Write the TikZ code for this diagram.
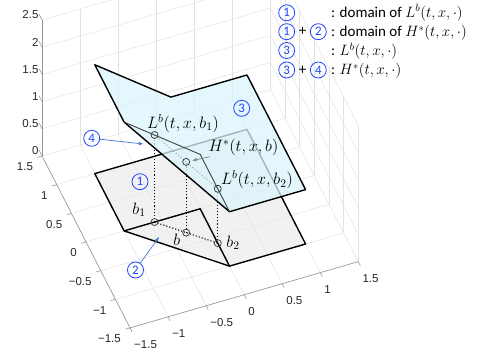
\RequirePackage{fix-cm}
\documentclass[tikz,border=0pt]{standalone}
\usepackage{fontspec}
\setmainfont{Carlito}
\newfontfamily\ticksf{Liberation Sans}
\usetikzlibrary{arrows.meta}
\definecolor{cblue}{RGB}{30,70,255}
\definecolor{ablue}{RGB}{70,120,210}
\definecolor{upfill}{RGB}{218,244,252}
\definecolor{lowfill}{RGB}{228,228,228}
\definecolor{gridc}{RGB}{226,226,226}
\definecolor{axisc}{RGB}{150,150,150}
\definecolor{tickc}{RGB}{38,38,38}
\begin{document}
\begin{tikzpicture}[x=1pt,y=1pt,
  gridl/.style={draw=gridc, line width=0.5pt},
  axl/.style={draw=axisc, line width=0.6pt},
  tickl/.style={font=\ticksf\fontsize{11.5}{13}\selectfont, text=tickc, inner sep=0pt},
  thickedge/.style={draw=black, line width=1.4pt, line join=round},
  thinedge/.style={draw=black!75, line width=0.9pt, line join=round},
  dotl/.style={draw=black, line width=1.1pt, dotted},
  mk/.style={circle, draw=black!75, line width=0.8pt, minimum size=7pt, inner sep=0pt},
  cnum/.style={circle, draw=cblue, text=cblue, line width=0.8pt, minimum size=16pt, inner sep=0pt, font=\fontsize{13}{13}\selectfont},
  mlab/.style={inner sep=0pt, font=\fontsize{16.5}{18}\selectfont},
  ltxt/.style={inner sep=0pt, anchor=base west, font=\fontsize{15}{16}\selectfont},
  barrow/.style={draw=ablue, line width=0.7pt, -{Stealth[length=5pt,width=3.5pt]}},
  garrow/.style={draw=gray, line width=0.7pt, -{Stealth[length=5pt,width=3.5pt]}}
]
\useasboundingbox (0,0) rectangle (486,356);
\clip (0,0) rectangle (486,356);
\begin{scope}[shift={(200.2,147.2)}, x={(76.1pt,22.1pt)}, y={(-29.3pt,57.3pt)}, z={(0pt,54.4pt)}]
  % grid
  \foreach \v in {-1.5,-1,-0.5,0,0.5,1,1.5} {
    \draw[gridl] (\v,-1.5,0) -- (\v,1.5,0);
    \draw[gridl] (-1.5,\v,0) -- (1.5,\v,0);
    \draw[gridl] (\v,1.5,0) -- (\v,1.5,2.5);
    \draw[gridl] (1.5,\v,0) -- (1.5,\v,2.5);
  }
  \foreach \h in {0.5,1,1.5,2,2.5} {
    \draw[gridl] (-1.5,1.5,\h) -- (1.5,1.5,\h);
    \draw[gridl] (1.5,-1.5,\h) -- (1.5,1.5,\h);
  }
  % axes
  \draw[axl] (-1.5,-1.5,0) -- (1.5,-1.5,0);
  \draw[axl] (-1.5,-1.5,0) -- (-1.5,1.5,0);
  \draw[axl] (-1.5,1.5,0) -- (-1.5,1.5,2.5);
  \foreach \v/\t [count=\i] in {-1.5/−1.5,-1/−1,-0.5/−0.5,0/0,0.5/0.5,1/1,1.5/1.5} {
    \draw[axl] (\v,-1.5,0) -- (\v,-1.57,0);
    \draw[axl] (-1.5,\v,0) -- (-1.56,\v,0);
    \node[tickl, anchor=west, xshift=4pt, yshift=-17pt] (xt\i) at (\v,-1.5,0) {\t};
    \node[tickl, anchor=east, xshift=-9pt, yshift=-11pt] (yt\i) at (-1.5,\v,0) {\t};
  }
  \foreach \h [count=\i] in {0,0.5,1,1.5,2,2.5} {
    \draw[axl] (-1.5,1.5,\h) -- (-1.5,1.6,\h);
    \node[tickl, anchor=east, xshift=-3.5pt, yshift=5pt] (zt\i) at (-1.5,1.5,\h) {\h};
  }
  % lower domain
  \fill[lowfill, fill opacity=0.5] (-1,1,0) -- (-1,0,0) -- (0,-1,0) -- (1,-1,0) -- (1,1,0) -- cycle;
  \draw[thickedge] (-1,1,0) -- (-1,0,0) -- (0,-1,0) -- (1,-1,0) -- (1,1,0) -- cycle;
  \draw[thickedge] (-1,0,0) -- (0,0,0) -- (0,-1,0);
  % points
  \coordinate (B1) at (-0.6,0,0);
  \coordinate (B) at (-0.3,-0.3,0);
  \coordinate (B2) at (0,-0.6,0);
  \coordinate (LB1) at (-0.6,0,1.6);
  \coordinate (HB) at (-0.3,-0.3,1.3);
  \coordinate (LB2) at (0,-0.6,1);
  \draw[dotl] (B1) -- (B) -- (B2);
  \draw[dotl] (LB1) -- (HB) -- (LB2);
  \draw[dotl] (B1) -- (LB1);
  \draw[dotl] (B) -- (HB);
  \draw[dotl] (B2) -- (LB2);
  \node[mk] (mB1) at (B1) {};
  \node[mk] (mB) at (B) {};
  \node[mk] (mB2) at (B2) {};
  % upper surface
  \fill[upfill, fill opacity=0.75] (-1,1,2) -- (0,1,1) -- (1,1,1) -- (1,-1,1) -- (0,-1,1) -- (-1,0,2) -- cycle;
  \draw[thickedge] (-1,0,2) -- (-1,1,2) -- (0,1,1) -- (1,1,1) -- (1,-1,1) -- (0,-1,1) -- cycle;
  \draw[thinedge] (-1,0,2) -- (0,0,1) -- (0,-1,1);
  \node[mk] (mLB1) at (LB1) {};
  \node[mk] (mHB) at (HB) {};
  \node[mk] (mLB2) at (LB2) {};
\end{scope}
% labels near points
\node[mlab, anchor=west] (lLB1) at (147,232.7) {$L^b(t,x,b_1)$};
\node[mlab, anchor=west] (lHB) at (208.3,209) {$H^*(t,x,b)$};
\node[mlab, anchor=west] (lLB2) at (221,176) {$L^b(t,x,b_2)$};
\node[mlab] (lb1) at (139,146) {$b_1$};
\node[mlab] (lb) at (176.7,116) {$b$};
\node[mlab] (lb2) at (233,113) {$b_2$};
% region numbers
\node[cnum] (p1) at (140,174.3) {1};
\node[cnum] (p2) at (135.5,86) {2};
\node[cnum] (p3) at (241.7,247.7) {3};
\node[cnum] (p4) at (91.7,217.7) {4};
\coordinate (t4) at (143.3,212);
\coordinate (t2) at (159,119);
\coordinate (hs) at (210,199.3);
\draw[barrow] (p4) -- (t4);
\draw[barrow] (p2) -- (t2);
\draw[garrow, shorten >=2.5pt] (hs) -- (mHB);
% legend
\node[cnum] (g1) at (286.7,343.2) {1};
\node[cnum] (g1b) at (286.7,324.3) {1};
\node[inner sep=0pt, font=\fontsize{15}{18}\selectfont] (gp1) at (302.7,324.3) {+};
\node[cnum] (g2) at (318.3,324.3) {2};
\node[cnum] (g3) at (286.7,305.5) {3};
\node[cnum] (g3b) at (286.7,286) {3};
\node[inner sep=0pt, font=\fontsize{15}{18}\selectfont] (gp2) at (302.7,286) {+};
\node[cnum] (g4) at (318.3,286) {4};
\node[ltxt] (lt1) at (331,338.6) {: domain of {\fontsize{15}{16}\selectfont$L^b(t,x,\cdot)$}};
\node[ltxt] (lt2) at (331,319.3) {: domain of {\fontsize{15}{16}\selectfont$H^*(t,x,\cdot)$}};
\node[ltxt] (lt3) at (331,300.5) {: {\fontsize{15}{16}\selectfont$L^b(t,x,\cdot)$}};
\node[ltxt] (lt4) at (331,281) {: {\fontsize{15}{16}\selectfont$H^*(t,x,\cdot)$}};
\end{tikzpicture}
\end{document}
